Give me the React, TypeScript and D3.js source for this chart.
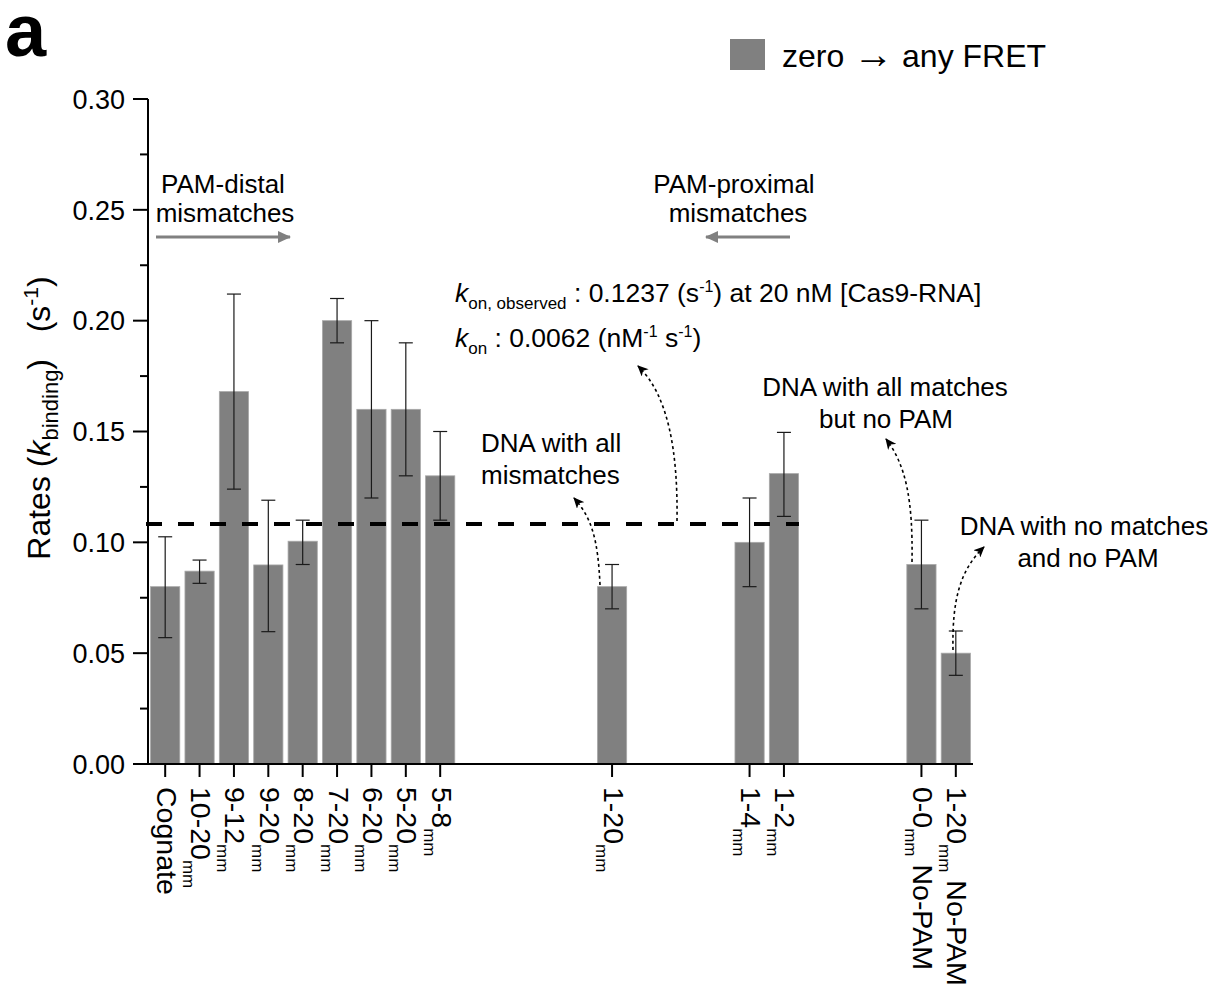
import React from "react";
import * as d3 from "d3";

// ---- data ----
const categories = ["Cognate", "10-20", "9-12", "9-20", "8-20", "7-20", "6-20", "5-20", "5-8", "1-20", "1-4", "1-2", "0-0", "1-20"];
const subscripts = ["", "mm", "mm", "mm", "mm", "mm", "mm", "mm", "mm", "mm", "mm", "mm", "mm", "mm"];
const suffixes = ["", "", "", "", "", "", "", "", "", "", "", "", " No-PAM", " No-PAM"];
const slotIndex = [0, 1, 2, 3, 4, 5, 6, 7, 8, 13, 17, 18, 22, 23];
const rates = [0.080, 0.087, 0.168, 0.0898, 0.1005, 0.200, 0.160, 0.160, 0.130, 0.080, 0.100, 0.131, 0.090, 0.050];
const errLow = [0.057, 0.0815, 0.124, 0.0597, 0.090, 0.190, 0.120, 0.130, 0.110, 0.070, 0.080, 0.1117, 0.070, 0.040];
const errHigh = [0.1025, 0.092, 0.212, 0.119, 0.110, 0.210, 0.200, 0.190, 0.150, 0.090, 0.120, 0.1496, 0.110, 0.060];
const yMajorTicks = [0, 0.05, 0.1, 0.15, 0.2, 0.25, 0.3];
const yMinorTicks = [0.025, 0.075, 0.125, 0.175, 0.225, 0.275];
const kOnReference = 0.1083;

const W = 1212;
const H = 989;
const FONT = "'Liberation Sans', Arial, Helvetica, sans-serif";
const BAR = "#808080";

export default function App() {
  const x = d3.scaleLinear().domain([-0.5, 23.5]).range([148, 973]);
  const y = d3.scaleLinear().domain([0, 0.3]).range([764, 99]);
  const step = x(1) - x(0);
  const barW = step * 0.85;
  const capW = 14;
  const fmt = d3.format(".2f");

  return (
    <svg width={W} height={H} style={{ position: "absolute", left: 0, top: 0, background: "#fff" }}
      fontFamily={FONT}>
      <defs>
        <marker id="grayHead" markerUnits="userSpaceOnUse" markerWidth={14} markerHeight={12}
          refX={12} refY={6} orient="auto">
          <path d="M0,0 L13,6 L0,12 z" fill={BAR} />
        </marker>
        <marker id="blackHead" markerUnits="userSpaceOnUse" markerWidth={12} markerHeight={10}
          refX={10} refY={5} orient="auto">
          <path d="M0,0 L11,5 L0,10 L3,5 z" fill="#000" />
        </marker>
      </defs>

      {/* panel letter */}
      <text x={5} y={56} fontSize={74} fontWeight="bold">a</text>

      {/* legend */}
      <rect x={730} y={39} width={35} height={31} fill={BAR} />
      <text x={782} y={67} fontSize={32}>
        zero <tspan fontSize={40} dy={1}>{"\u2192"}</tspan><tspan dy={-1}> any FRET</tspan>
      </text>

      {/* bars */}
      {rates.map((v, i) => (
        <rect key={"b" + i} x={x(slotIndex[i]) - barW / 2} y={y(v)} width={barW} height={y(0) - y(v)}
          fill={BAR} stroke="#a8a8a8" strokeWidth={0.8} />
      ))}

      {/* error bars */}
      {rates.map((v, i) => {
        const cx = x(slotIndex[i]);
        return (
          <g key={"e" + i} stroke="#1a1a1a" strokeWidth={1.2}>
            <line x1={cx} x2={cx} y1={y(errLow[i])} y2={y(errHigh[i])} />
            <line x1={cx - capW / 2} x2={cx + capW / 2} y1={y(errLow[i])} y2={y(errLow[i])} />
            <line x1={cx - capW / 2} x2={cx + capW / 2} y1={y(errHigh[i])} y2={y(errHigh[i])} />
          </g>
        );
      })}

      {/* reference dashed line */}
      <line x1={x(-0.5) - 2} x2={x(18) + 15} y1={y(kOnReference)} y2={y(kOnReference)}
        stroke="#000" strokeWidth={4} strokeDasharray="16,16" />

      {/* y axis */}
      <line x1={x(-0.5)} x2={x(-0.5)} y1={y(0.3)} y2={y(0) + 1} stroke="#000" strokeWidth={2} />
      {yMajorTicks.map((t) => (
        <g key={"ym" + t}>
          <line x1={x(-0.5) - 15} x2={x(-0.5)} y1={y(t)} y2={y(t)} stroke="#000" strokeWidth={2} />
          <text x={125} y={y(t)} dy="0.36em" textAnchor="end" fontSize={27}>{fmt(t)}</text>
        </g>
      ))}
      {yMinorTicks.map((t) => (
        <line key={"yn" + t} x1={x(-0.5) - 8} x2={x(-0.5)} y1={y(t)} y2={y(t)} stroke="#000" strokeWidth={2} />
      ))}

      {/* x axis */}
      <line x1={x(-0.5) - 1} x2={x(23.5)} y1={y(0)} y2={y(0)} stroke="#000" strokeWidth={2} />
      {categories.map((c, i) => {
        const cx = x(slotIndex[i]);
        return (
          <g key={"xt" + i}>
            <line x1={cx} x2={cx} y1={y(0)} y2={y(0) + 13} stroke="#000" strokeWidth={2} />
            <g transform={`translate(${cx},787) rotate(90)`}>
              <text dy="0.3em" fontSize={28.5} style={{ whiteSpace: "pre" }}>
                {c}
                {subscripts[i] ? <tspan fontSize={17} dy={8}>{subscripts[i]}</tspan> : null}
                {suffixes[i] ? <tspan fontSize={28.5} dy={-8}>{suffixes[i]}</tspan> : null}
              </text>
            </g>
          </g>
        );
      })}

      {/* y axis title */}
      <g transform="translate(50,418) rotate(-90)">
        <text textAnchor="middle" fontSize={32} style={{ whiteSpace: "pre" }}>
          Rates (<tspan fontStyle="italic">k</tspan>
          <tspan fontSize={22} dy={8}>binding</tspan>
          <tspan dy={-8}>)   (s</tspan>
          <tspan fontSize={21} dy={-12}>-1</tspan>
          <tspan dy={12}>)</tspan>
        </text>
      </g>

      {/* PAM-distal annotation */}
      <text x={223} y={193} fontSize={26} textAnchor="middle">PAM-distal</text>
      <text x={225} y={222} fontSize={26} textAnchor="middle">mismatches</text>
      <line x1={156} x2={290} y1={237} y2={237} stroke={BAR} strokeWidth={3} markerEnd="url(#grayHead)" />

      {/* PAM-proximal annotation */}
      <text x={734} y={193} fontSize={26} textAnchor="middle">PAM-proximal</text>
      <text x={738} y={222} fontSize={26} textAnchor="middle">mismatches</text>
      <line x1={790} x2={706} y1={237} y2={237} stroke={BAR} strokeWidth={3} markerEnd="url(#grayHead)" />

      {/* k_on annotation */}
      <text x={455} y={302} fontSize={26.5} style={{ whiteSpace: "pre" }}>
        <tspan fontStyle="italic">k</tspan>
        <tspan fontSize={17} dy={7}>on, observed</tspan>
        <tspan dy={-7}> : 0.1237 (s</tspan>
        <tspan fontSize={16} dy={-10}>-1</tspan>
        <tspan dy={10}>) at 20 nM [Cas9-RNA]</tspan>
      </text>
      <text x={455} y={347} fontSize={26.5} style={{ whiteSpace: "pre" }}>
        <tspan fontStyle="italic">k</tspan>
        <tspan fontSize={17} dy={7}>on</tspan>
        <tspan dy={-7}> : 0.0062 (nM</tspan>
        <tspan fontSize={16} dy={-10}>-1</tspan>
        <tspan dy={10}> s</tspan>
        <tspan fontSize={16} dy={-10}>-1</tspan>
        <tspan dy={10}>)</tspan>
      </text>

      {/* other annotations */}
      <text x={481} y={452} fontSize={26}>DNA with all</text>
      <text x={481} y={484} fontSize={26}>mismatches</text>
      <text x={885} y={396} fontSize={26} textAnchor="middle">DNA with all matches</text>
      <text x={886} y={428} fontSize={26} textAnchor="middle">but no PAM</text>
      <text x={1084} y={535} fontSize={26} textAnchor="middle">DNA with no matches</text>
      <text x={1088} y={567} fontSize={26} textAnchor="middle">and no PAM</text>

      {/* dotted curved arrows */}
      <g fill="none" stroke="#000" strokeWidth={1.6} strokeDasharray="3,3">
        <path d="M677,521 C678,450 668,395 638,366" markerEnd="url(#blackHead)" />
        <path d="M600,585 C598,540 592,518 574,498" markerEnd="url(#blackHead)" />
        <path d="M912,562 C913,500 906,465 886,439" markerEnd="url(#blackHead)" />
        <path d="M953,650 C952,600 960,570 984,547" markerEnd="url(#blackHead)" />
      </g>
    </svg>
  );
}
